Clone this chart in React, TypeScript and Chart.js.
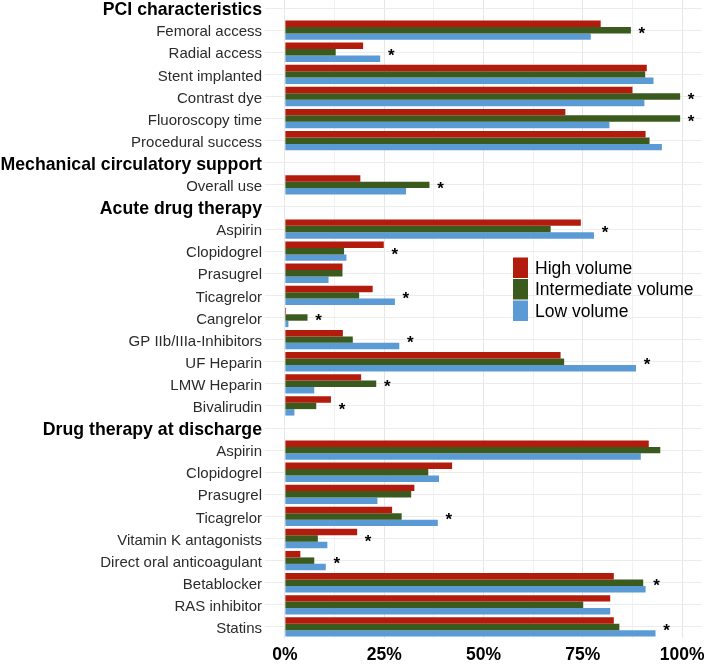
import React, { useEffect, useRef } from "react";
import { Chart, registerables } from "chart.js";

Chart.register(...registerables);

// ---------- data ----------
const categories = [
  "PCI characteristics",
  "Femoral access",
  "Radial access",
  "Stent implanted",
  "Contrast dye",
  "Fluoroscopy time",
  "Procedural success",
  "Mechanical circulatory support",
  "Overall use",
  "Acute drug therapy",
  "Aspirin",
  "Clopidogrel",
  "Prasugrel",
  "Ticagrelor",
  "Cangrelor",
  "GP IIb/IIIa-Inhibitors",
  "UF Heparin",
  "LMW Heparin",
  "Bivalirudin",
  "Drug therapy at discharge",
  "Aspirin",
  "Clopidogrel",
  "Prasugrel",
  "Ticagrelor",
  "Vitamin K antagonists",
  "Direct oral anticoagulant",
  "Betablocker",
  "RAS inhibitor",
  "Statins",
];

const sectionHeaders = [
  "PCI characteristics",
  "Mechanical circulatory support",
  "Acute drug therapy",
  "Drug therapy at discharge",
];

const highVolume = [
  null, 79.5, 19.7, 91.1, 87.5, 70.6, 90.8,
  null, 19.0,
  null, 74.5, 24.9, 14.5, 22.1, 0.3, 14.6, 69.4, 19.2, 11.6,
  null, 91.6, 42.1, 32.6, 27.0, 18.2, 3.9, 82.8, 81.9, 82.8,
];

const intermediateVolume = [
  null, 87.1, 12.8, 90.7, 99.5, 99.5, 91.8,
  null, 36.4,
  null, 66.9, 14.9, 14.5, 18.7, 5.7, 17.1, 70.3, 23.0, 7.9,
  null, 94.5, 36.1, 31.8, 29.4, 8.3, 7.4, 90.2, 75.1, 84.2,
];

const lowVolume = [
  null, 77.0, 24.0, 92.8, 90.5, 81.7, 94.9,
  null, 30.5,
  null, 77.8, 15.5, 11.0, 27.7, 0.9, 28.8, 88.4, 7.4, 2.4,
  null, 89.6, 38.8, 23.3, 38.5, 10.7, 10.3, 90.8, 81.9, 93.3,
];

const significant = [
  false, true, true, false, true, true, false,
  false, true,
  false, true, true, false, true, true, true, true, true, true,
  false, false, false, false, true, true, true, true, false, true,
];

const seriesNames = ["High volume", "Intermediate volume", "Low volume"];
const seriesColors = ["#B31B0C", "#3B5B1E", "#5B9BD5"];

const xGridValues = [0, 12.5, 25, 37.5, 50, 62.5, 75, 87.5, 100];
const xLabelValues = [0, 25, 50, 75, 100];
const xLabels = ["0%", "25%", "50%", "75%", "100%"];

// ---------- styling ----------
const FONT = "'Liberation Sans', Arial, Helvetica, sans-serif";
const isHeader = (i: number) => sectionHeaders.includes(categories[i]);

const annotationPlugin = {
  id: "annotations",
  afterDatasetsDraw(chart: any) {
    const ctx = chart.ctx;
    const xs = chart.scales.x;
    const ys = chart.scales.y;
    ctx.save();
    // significance stars
    ctx.font = `bold 17px ${FONT}`;
    ctx.fillStyle = "#000";
    ctx.textAlign = "center";
    ctx.textBaseline = "middle";
    significant.forEach((s, i) => {
      if (!s) return;
      const m = Math.max(
        highVolume[i] ?? 0,
        intermediateVolume[i] ?? 0,
        lowVolume[i] ?? 0
      );
      ctx.fillText("*", xs.getPixelForValue(m) + 11, ys.getPixelForValue(i) + 4);
    });

    // legend
    const boxX = 513;
    const boxW = 15;
    const boxH = 21.5;
    const top = 260;
    ctx.font = `17.5px ${FONT}`;
    ctx.textAlign = "left";
    seriesNames.forEach((name, k) => {
      const y0 = top + k * boxH;
      ctx.fillStyle = seriesColors[k];
      ctx.fillRect(boxX, y0 + 0.5, boxW, boxH - 1);
      ctx.fillStyle = "#000";
      ctx.fillText(name, boxX + boxW + 7, y0 + boxH / 2 + 1);
    });
    ctx.restore();
  },
};

export default function App() {
  const canvasRef = useRef<HTMLCanvasElement | null>(null);

  useEffect(() => {
    if (!canvasRef.current) return;
    const chart = new Chart(canvasRef.current, {
      type: "bar",
      data: {
        labels: categories,
        datasets: [highVolume, intermediateVolume, lowVolume].map((d, k) => ({
          label: seriesNames[k],
          data: d,
          backgroundColor: seriesColors[k],
          borderWidth: 0,
          barPercentage: 1,
          categoryPercentage: 0.875,
        })),
      },
      options: {
        indexAxis: "y",
        animation: false,
        responsive: false,
        maintainAspectRatio: false,
        devicePixelRatio: 1,
        layout: { padding: { left: 0, right: 7, top: 0, bottom: 0 } },
        plugins: {
          legend: { display: false },
          tooltip: { enabled: false },
        },
        scales: {
          x: {
            type: "linear",
            min: -5,
            max: 105,
            afterBuildTicks: (s: any) => {
              s.ticks = xGridValues.map((v) => ({ value: v }));
            },
            afterFit: (s: any) => {
              s.height = 26;
              s.paddingLeft = 0;
              s.paddingRight = 0;
            },
            grid: {
              color: (c: any) =>
                xLabelValues.includes(c.tick?.value) ? "#e6e6e6" : "#f1f1f1",
              lineWidth: 1,
              drawTicks: false,
            },
            border: { display: false },
            ticks: {
              autoSkip: false,
              maxRotation: 0,
              padding: 7,
              color: "#000",
              font: { family: FONT, size: 17.5, weight: "bold" },
              callback: (v: any) => {
                const idx = xLabelValues.indexOf(Number(v));
                return idx >= 0 ? xLabels[idx] : "";
              },
            },
          },
          y: {
            type: "category",
            offset: true,
            afterFit: (s: any) => {
              s.width = 265;
              s.paddingTop = 0;
              s.paddingBottom = 0;
            },
            grid: {
              color: "#ececec",
              lineWidth: 1,
              offset: false,
              drawTicks: false,
            },
            border: { display: false },
            ticks: {
              autoSkip: false,
              padding: 3,
              labelOffset: 2,
              color: (c: any) => (isHeader(c.index) ? "#000" : "#2b2b2b"),
              font: (c: any) =>
                isHeader(c.index)
                  ? { family: FONT, size: 17.7, weight: "bold" }
                  : { family: FONT, size: 15 },
            },
          },
        },
      },
      plugins: [annotationPlugin],
    } as any);
    return () => chart.destroy();
  }, []);

  return (
    <div
      style={{
        position: "fixed",
        left: 0,
        top: -3,
        width: 709,
        height: 667,
        background: "#fff",
      }}
    >
      <canvas ref={canvasRef} width={709} height={667} style={{ display: "block" }} />
    </div>
  );
}
